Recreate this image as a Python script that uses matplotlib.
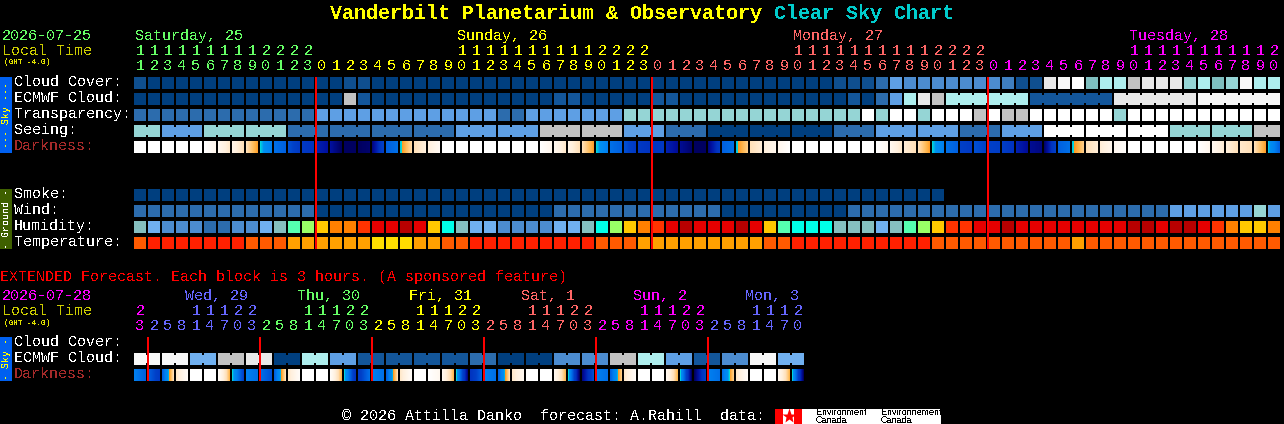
import numpy as np
import matplotlib
matplotlib.use('Agg')
import matplotlib.pyplot as plt
from matplotlib.colors import LinearSegmentedColormap
from matplotlib.patches import Rectangle

plt.rcParams['font.family'] = ['Liberation Mono', 'DejaVu Sans Mono']
plt.rcParams['text.antialiased'] = False
plt.rcParams['text.hinting'] = 'native'

# sky blocks are indices into sky_colors
sky_colors = ['#003F7F', '#0F4F8F', '#13569A', '#2C6CAD', '#3F7FC0', '#4C8CD0', '#5E9FE4', '#70B0F0',
              '#7FBFBF', '#95D5D5', '#AEEEEE', '#C2C2C2', '#E8E8E8', '#F8F8F8', '#FFFFFF']
humidity_colors = ['#2C6CAD', '#4C8CD0', '#70B0F0', '#85BFBF', '#00FFE8', '#55FFB0', '#99FF66',
                   '#FFC800', '#FF8000', '#FF3300', '#E60000', '#B80000']
temperature_colors = ['#FF2000', '#FF5A00', '#FFA000', '#FFDD00']

cloud_cover = [1, 0, 0, 0, 0, 0, 0, 0, 0, 0,
               0, 0, 0, 0, 0, 1, 1, 0, 0, 0,
               0, 0, 0, 0, 0, 0, 0, 0, 0, 0,
               0, 0, 0, 0, 0, 0, 0, 0, 0, 0,
               0, 0, 0, 0, 0, 0, 0, 0, 0, 0,
               1, 1, 1, 3, 6, 5, 5, 5, 5, 5,
               5, 5, 4, 1, 1, 12, 13, 14, 8, 10,
               10, 11, 12, 12, 12, 9, 10, 8, 9, 13, 10, 10]
ecmwf_cloud = [0, 0, 0, 0, 0, 0, 0, 0, 0, 0,
               0, 0, 0, 0, 0, 11, 2, 0, 0, 0,
               0, 0, 0, 0, 0, 0, 0, 0, 0, 0,
               2, 2, 0, 0, 0, 0, 0, 2, 2, 0,
               0, 0, 0, 0, 0, 0, 0, 0, 0, 0,
               0, 2, 0, 3, 6, 10, 12, 11, 10, 10,
               10, 10, 10, 10, 2, 2, 2, 2, 2, 2,
               12, 12, 12, 12, 12, 12, 13, 13, 13, 13, 13, 13]
transparency = [3, 3, 3, 3, 3, 3, 3, 3, 3, 3,
                3, 3, 3, 6, 6, 6, 6, 6, 6, 6,
                6, 6, 6, 6, 6, 6, 3, 3, 6, 6,
                6, 6, 6, 6, 6, 9, 9, 9, 9, 9,
                9, 9, 9, 9, 9, 9, 9, 9, 9, 9,
                9, 9, 14, 9, 14, 14, 9, 14, 14, 14,
                11, 14, 11, 11, 14, 14, 14, 14, 14, 14,
                9, 14, 14, 14, 14, 14, 14, 14, 14, 14, 14, 14]
seeing = [9, 6, 9, 9, 3, 3, 3, 3, 6, 6, 11, 11, 6, 3, 0, 0, 0, 3, 6, 6, 3, 6, 14, 14, 14, 9, 9, 11]
seeing_hours = [2, 3, 3, 3, 3, 3, 3, 3, 3, 3, 3, 3, 3, 3, 3, 3, 3, 3, 3, 3, 3, 3, 3, 3, 3, 3, 3, 2]
smoke = [0, 0, 0, 0, 0, 0, 0, 0, 0, 0,
         0, 0, 0, 0, 0, 0, 0, 0, 0, 0,
         0, 0, 0, 0, 0, 0, 0, 0, 0, 0,
         0, 0, 0, 0, 0, 0, 0, 0, 0, 0,
         0, 0, 0, 0, 0, 0, 0, 0, 0, 0,
         0, 0, 0, 0, 0, 0, 0, 0]
wind = [3, 3, 3, 3, 3, 3, 3, 3, 3, 3,
        3, 3, 3, 0, 0, 0, 0, 0, 0, 0,
        0, 0, 0, 0, 0, 0, 0, 0, 0, 0,
        3, 3, 3, 3, 3, 3, 3, 3, 3, 3,
        3, 3, 0, 0, 0, 0, 0, 0, 0, 0,
        0, 3, 3, 3, 3, 3, 3, 3, 3, 3,
        3, 3, 3, 3, 3, 3, 3, 3, 3, 3,
        3, 3, 3, 3, 6, 6, 6, 6, 6, 6, 9, 6]
humidity = [3, 2, 1, 1, 1, 0, 0, 1, 1, 2,
            3, 5, 6, 7, 8, 8, 9, 10, 10, 11,
            10, 7, 4, 3, 2, 2, 1, 1, 1, 1,
            2, 2, 3, 4, 6, 7, 8, 9, 10, 11,
            10, 10, 10, 11, 10, 7, 5, 4, 4, 4,
            3, 3, 3, 2, 3, 5, 6, 7, 9, 9,
            10, 10, 11, 10, 10, 10, 10, 10, 10, 10,
            10, 11, 11, 10, 11, 11, 10, 9, 8, 7, 7, 8]
temperature = [1, 0, 0, 0, 0, 0, 0, 0, 1, 1,
               1, 2, 2, 2, 2, 2, 2, 3, 3, 3,
               2, 2, 1, 1, 0, 0, 0, 0, 0, 0,
               0, 0, 0, 1, 1, 1, 2, 2, 2, 2,
               2, 2, 2, 2, 2, 1, 1, 0, 0, 0,
               0, 0, 0, 0, 0, 0, 0, 1, 1, 1,
               1, 1, 1, 1, 1, 1, 1, 2, 1, 1,
               1, 1, 1, 1, 1, 1, 1, 1, 1, 1, 1, 1]

# darkness: shade level at the left and right edge of each block
darkness_left = [0, 0, 0, 0, 0, 0, 1, 1.5, 3, 4.6,
                 6.5, 7.5, 8.5, 9.5, 10, 11, 11, 10.5, 7, 4.7,
                 3, 2, 0, 0, 0, 0, 0, 0, 0, 0,
                 1, 1.5, 3, 4.6, 6.5, 7.5, 8.5, 9, 9.5, 10.2,
                 11, 10.5, 7, 4.7, 3, 2, 1.2, 0, 0, 0,
                 0, 0, 0, 0, 1, 2.2, 3, 4.6, 6.5, 8,
                 7.5, 8, 8.2, 9.5, 10.2, 10.8, 7, 4.7, 3, 2.2,
                 1, 0, 0, 0, 0, 0, 0, 1, 2, 2.5, 3, 4.7]
darkness_right = [0, 0, 0, 0, 0, 1.2, 2.5, 3, 4.4, 6,
                  7, 8.5, 9, 10, 11, 11, 10.8, 8, 6.5, 3.2,
                  2, 0.8, 0, 0, 0, 0, 0, 0, 0, 1.2,
                  2.5, 3, 4.4, 6, 7, 8.5, 9, 8.5, 10.2, 10.8,
                  11, 8.5, 6.5, 3.5, 2.2, 1.2, 0, 0, 0, 0,
                  0, 0, 0, 1, 2.5, 3, 4.4, 6, 7, 8.5,
                  8, 8.2, 9, 10.2, 10.5, 8, 6.5, 3.5, 2.2, 1.2,
                  0.3, 0, 0, 0, 0, 0, 1.2, 2.2, 3, 3, 4.4, 7]
shade_levels = [0, 1, 2, 3, 4, 4.5, 4.5, 5, 6, 7, 8, 9, 10, 11]
shade_colors = ['#FFFFFF', '#FFF8F0', '#FFF0DD', '#FFE0B8', '#FFB850', '#FF9820', '#00E8D8', '#0090F0',
                '#0080F0', '#0060E0', '#0040C8', '#0033C0', '#0010A0', '#000060']

ext_ecmwf = [13, 13, 7, 11, 12, 0, 10, 6, 2, 2, 2, 2, 3, 0, 0, 5, 5, 11, 10, 6, 2, 5, 13, 7]
ext_darkness_left = [6, 7, 7, 2.5, 0, 0, 0.5, 4.6, 6, 6.5, 7, 2.5, 0, 0, 0.5, 4.6,
                     8.5, 6, 7, 2.5, 0, 0, 1, 4.6, 9, 6, 7, 2.5, 0, 0, 1, 4.6,
                     10.5, 6, 7, 2.5, 0, 0, 1, 4.6, 11, 6, 6.5, 2.5, 0, 0, 1, 4.6]
ext_darkness_right = [7, 8.5, 3, 0.5, 0, 0, 4, 8, 6.5, 7.5, 3, 0.5, 0, 0, 4, 9,
                      6.5, 6.5, 3, 0.5, 0, 1, 4, 10.5, 7, 6.5, 3, 1, 0, 0, 4, 11,
                      7.5, 6.5, 3.5, 0.5, 0, 0, 4, 11, 8, 6.5, 3.5, 0.5, 0, 0, 4, 11]

hours = (list(range(11, 24)) + list(range(24)) + list(range(24)) + list(range(21)))
hour_days = [0] * 13 + [1] * 24 + [2] * 24 + [3] * 21
day_names = ['Saturday, 25', 'Sunday, 26', 'Monday, 27', 'Tuesday, 28']
day_cols = [0, 23, 47, 71]
day_colors = ['#66FF66', '#FFFF00', '#FF6666', '#FF00FF']
midnight_cols = [13, 37, 61]

ext_hours = [23, 2, 5, 8, 11, 14, 17, 20] * 6
ext_days = [0] + [1] * 8 + [2] * 8 + [3] * 8 + [4] * 8 + [5] * 8 + [6] * 7
ext_day_names = ['Wed, 29', 'Thu, 30', 'Fri, 31', 'Sat, 1', 'Sun, 2', 'Mon, 3']
ext_day_colors = ['#FF00FF', '#6666FF', '#66FF66', '#FFFF00', '#FF6666', '#FF00FF', '#6666FF']
ext_midnight_cols = [1, 9, 17, 25, 33, 41]

LEFT = 134
PITCH = 14
CELL = 12

fig = plt.figure(figsize=(12.84, 4.24), dpi=100, facecolor='black')
ax = fig.add_axes([0, 0, 1, 1])
ax.set_xlim(0, 1284)
ax.set_ylim(424, 0)
ax.axis('off')


def label(x, y, s, color='white', px=15, **kw):
    # font size given in pixels, y is the baseline
    ax.text(x, y, s, color=color, fontsize=px * 0.72, va='baseline', **kw)


def box(x, y, w, h, color, z=2):
    ax.add_patch(Rectangle((x, y), w, h, facecolor=color, edgecolor='none', antialiased=False, zorder=z))


def cell_row(values, colors, y):
    for i, v in enumerate(values):
        box(LEFT + PITCH * i, y, CELL, CELL, colors[v])


def merged_row(values, spans, y, colors=sky_colors):
    # blocks that cover several hours are joined with a short neck
    col = 0
    for v, n in zip(values, spans):
        for k in range(n):
            box(LEFT + PITCH * (col + k), y, CELL, CELL, colors[v])
            if k < n - 1:
                box(LEFT + PITCH * (col + k) + CELL, y + 2, PITCH - CELL, CELL - 4, colors[v])
        col += n


shade_map = LinearSegmentedColormap.from_list(
    'shade', [(lev / 11, c) for lev, c in zip(shade_levels, shade_colors)], N=512)


def darkness_row(left, right, y):
    for i, (a, b) in enumerate(zip(left, right)):
        x = LEFT + PITCH * i
        ax.imshow(np.linspace(a, b, CELL)[None, :], cmap=shade_map, vmin=0, vmax=11, aspect='auto',
                  extent=(x, x + CELL, y + CELL, y), interpolation='nearest', zorder=2)
    ax.set_xlim(0, 1284)
    ax.set_ylim(424, 0)


def hour_labels(hrs, colors, tens_y, units_y):
    for i, (h, c) in enumerate(zip(hrs, colors)):
        x = LEFT + PITCH * i + 6
        if h >= 10:
            label(x, tens_y, str(h // 10), c, ha='center')
        label(x, units_y, str(h % 10), c, ha='center')


def red_lines(cols, y0, y1):
    for c in cols:
        box(LEFT + PITCH * c - 1, y0, 2, y1 - y0, '#FF0000', z=4)


# title
label(330, 19, 'Vanderbilt Planetarium & Observatory', '#FFFF00', px=20, fontweight='bold')
label(774, 19, 'Clear Sky Chart', '#00CCCC', px=20, fontweight='bold')

# main table header
label(2, 40, '2026-07-25', '#66FF66')
label(2, 55, 'Local Time', '#CCCC00')
label(4, 64, '(GMT -4.0)', '#E0E000', px=7.8)
for name, col, c in zip(day_names, day_cols, day_colors):
    label(LEFT + PITCH * col + 1, 40, name, c)
hour_labels(hours, [day_colors[d] for d in hour_days], 55, 70)

# sky rows
for y, s, c in [(86, 'Cloud Cover:', 'white'), (102, 'ECMWF Cloud:', 'white'), (118, 'Transparency:', 'white'),
                (134, 'Seeing:', 'white'), (150, 'Darkness:', '#A52A2A'), (198, 'Smoke:', 'white'),
                (214, 'Wind:', 'white'), (230, 'Humidity:', 'white'), (246, 'Temperature:', 'white')]:
    label(14, y, s, c)

cell_row(cloud_cover, sky_colors, 77)
merged_row(ecmwf_cloud[:58] + ecmwf_cloud[58::6], [1] * 58 + [6] * 4, 93)
cell_row(transparency, sky_colors, 109)
merged_row(seeing, seeing_hours, 125)
darkness_row(darkness_left, darkness_right, 141)

cell_row(smoke, sky_colors, 189)
cell_row(wind, sky_colors, 205)
cell_row(humidity, humidity_colors, 221)
cell_row(temperature, temperature_colors, 237)

box(0, 77, 12, 76, '#0060F0')
ax.text(6, 115, '--- Sky ---', color='#FFFF00', fontsize=7.2, rotation=90, ha='center', va='center')
box(0, 189, 12, 60, '#3F6000')
ax.text(6, 219, '- Ground -', color='white', fontsize=7.2, rotation=90, ha='center', va='center')

red_lines(midnight_cols, 77, 249)

# extended forecast
label(0, 281, 'EXTENDED Forecast. Each block is 3 hours. (A sponsored feature)', '#FF0000')
label(2, 300, '2026-07-28', '#FF00FF')
label(2, 315, 'Local Time', '#CCCC00')
label(4, 325, '(GMT -4.0)', '#E0E000', px=7.8)
for k, name in enumerate(ext_day_names):
    label(185 + 112 * k, 300, name, ext_day_colors[k + 1])
hour_labels(ext_hours, [ext_day_colors[d] for d in ext_days], 315, 330)

label(14, 346, 'Cloud Cover:')
label(14, 362, 'ECMWF Cloud:')
label(14, 378, 'Darkness:', '#A52A2A')
merged_row(ext_ecmwf, [2] * 24, 353)
darkness_row(ext_darkness_left, ext_darkness_right, 369)

box(0, 337, 12, 44, '#0060F0')
ax.text(6, 359, '- Sky -', color='#FFFF00', fontsize=7.2, rotation=90, ha='center', va='center')
red_lines(ext_midnight_cols, 337, 381)

# footer
label(342, 420, '\u00a9 2026 Attilla Danko  forecast: A.Rahill  data:')
box(775, 409, 166, 15, 'white')
box(775, 409, 8, 15, '#FF0000')
box(794, 409, 8, 15, '#FF0000')
ax.plot(788.5, 416, marker='*', ms=11, color='#FF0000', mec='none', zorder=3)
for x, s in [(816, 'Environment'), (881, 'Environnement')]:
    label(x, 415, s, 'black', px=9, family='Liberation Sans')
    label(x, 423, 'Canada', 'black', px=9, family='Liberation Sans')

fig.savefig('out.png', dpi=100, facecolor='black')
